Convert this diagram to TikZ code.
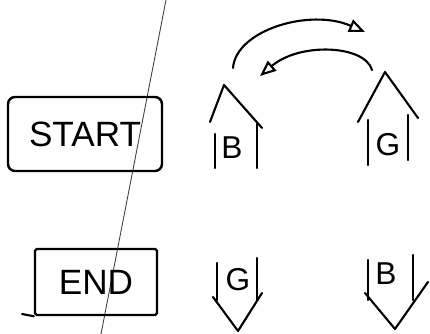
\documentclass[tikz,border=0pt]{standalone}
\usepackage{fontspec}
\setsansfont{Liberation Sans}
\usetikzlibrary{arrows.meta,positioning}
\tikzset{pen/.style={line width=1.2pt,line cap=round,line join=round},
  tag/.style={draw,line width=1.4pt,font=\sffamily\fontsize{20}{22}\selectfont,inner sep=0pt},
  letter/.style={font=\sffamily\fontsize{18}{20}\selectfont,inner sep=1pt},
  swap/.style={pen,-{Triangle[open,length=3.2mm,width=2.6mm]}}}

\begin{document}
\begin{tikzpicture}[x=0.2mm,y=-0.2mm]
\useasboundingbox (0,0) rectangle (430,334);
% fold line across the sheet
\draw[black!75,line width=0.5pt] (166,0) -- (101,334);
\node[tag,rounded corners=4pt,minimum width=30.8mm,minimum height=14.8mm] (start) at (85,134) {START};
\node[tag,rounded corners=1pt,minimum width=24.4mm,minimum height=13.2mm] (end) at (96,282) {END};
\coordinate (tail) at (22,314);
\draw[pen] (tail) -- (end.south west);
% pieces facing up
\node[letter] (bup) at (232,148) {B};
\node[letter] (gup) at (388,145) {G};
\draw[pen] (210,122) -- (224,85) -- (262,128);
\draw[pen] (215,134) -- (215,168) (257,124) -- (257,168);
\draw[pen] (358,122) -- (385,72) -- (418,118);
\draw[pen] (368,120) -- (368,165) (408,115) -- (408,160);
% pieces facing down
\node[letter] (gdown) at (238,280) {G};
\node[letter] (bdown) at (386,274) {B};
\draw[pen] (217,263) -- (217,300) (257,258) -- (257,300);
\draw[pen] (213,297) -- (238,331) -- (262,293);
\draw[pen] (368,260) -- (368,300) (413,255) -- (413,300);
\draw[pen] (365,293) -- (395,329) -- (428,282);
% swap arrows
\coordinate (bfrom) at (233,68);
\coordinate (gto) at (365,32);
\coordinate (gfrom) at (372,70);
\coordinate (bto) at (260,76);
\draw[swap] (bfrom) .. controls (236,30) and (310,8) .. (gto);
\draw[swap] (gfrom) .. controls (365,45) and (300,42) .. (bto);
\end{tikzpicture}
\end{document}
